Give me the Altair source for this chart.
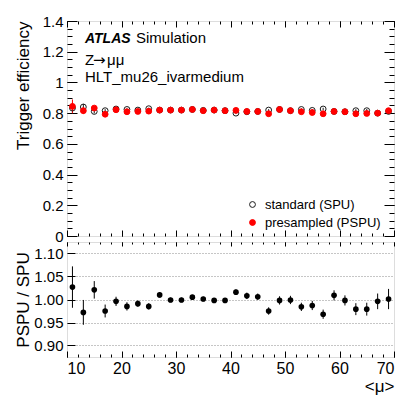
import altair as alt
import pandas as pd

FONT = "Liberation Sans"

# ---------------- data ----------------
mu = list(range(11, 70, 2))
eff_spu = [0.833, 0.840, 0.811, 0.816, 0.827, 0.824, 0.820, 0.829, 0.820, 0.820,
           0.820, 0.824, 0.818, 0.820, 0.816, 0.800, 0.809, 0.811, 0.820, 0.824,
           0.816, 0.824, 0.818, 0.827, 0.811, 0.809, 0.816, 0.816, 0.800, 0.811]
err_spu = [0.035, 0.020, 0.013, 0.010, 0.008, 0.007, 0.006, 0.006, 0.005, 0.005,
           0.005, 0.005, 0.005, 0.005, 0.005, 0.005, 0.006, 0.006, 0.006, 0.007,
           0.007, 0.007, 0.008, 0.008, 0.008, 0.009, 0.010, 0.011, 0.012, 0.015]
eff_pspu = [0.844, 0.816, 0.833, 0.793, 0.822, 0.809, 0.811, 0.813, 0.820, 0.820,
            0.820, 0.824, 0.816, 0.820, 0.816, 0.818, 0.811, 0.811, 0.796, 0.824,
            0.816, 0.809, 0.804, 0.796, 0.811, 0.809, 0.796, 0.798, 0.800, 0.816]
err_pspu = [0.045, 0.022, 0.014, 0.011, 0.008, 0.007, 0.006, 0.006, 0.005, 0.005,
            0.005, 0.005, 0.005, 0.005, 0.005, 0.005, 0.006, 0.006, 0.006, 0.007,
            0.007, 0.007, 0.008, 0.008, 0.008, 0.009, 0.010, 0.011, 0.012, 0.015]
ratio = [1.027, 0.972, 1.021, 0.975, 0.996, 0.985, 0.991, 0.985, 1.010, 0.999,
         0.999, 1.005, 1.001, 0.998, 0.998, 1.016, 1.008, 1.006, 0.975, 0.998,
         0.999, 0.984, 0.987, 0.968, 1.009, 0.998, 0.979, 0.979, 0.996, 1.001]
ratio_err = [0.045, 0.027, 0.019, 0.014, 0.010, 0.009, 0.007, 0.007, 0.006, 0.005,
             0.005, 0.005, 0.005, 0.005, 0.005, 0.006, 0.007, 0.007, 0.008, 0.009,
             0.009, 0.009, 0.010, 0.010, 0.011, 0.011, 0.013, 0.014, 0.017, 0.022]

SERIES = ["standard (SPU)", "presampled (PSPU)"]
y_major_top = [0, 0.2, 0.4, 0.6, 0.8, 1.0, 1.2, 1.4]
y_minor_top = [round(i * 0.05, 2) for i in range(29)]
y_major_ratio = [0.90, 0.95, 1.00, 1.05, 1.10]
x_major = [10, 20, 30, 40, 50, 60, 70]
x_minor = list(range(10, 71, 2))

label_atlas = ["ATLAS"]
label_sim = ["Simulation"]
label_proc_z = ["Z"]
label_proc_arrow = ["\u2192"]
label_proc_mumu = ["\u03bc\u03bc"]
label_trig = ["HLT_mu26_ivarmedium"]
title_y_top = "Trigger efficiency"
title_y_ratio = "PSPU / SPU"
title_x = "<\u03bc>"

# ---------------- tables ----------------
rows = []
for s, eff, err in [(SERIES[0], eff_spu, err_spu), (SERIES[1], eff_pspu, err_pspu)]:
    for m, e, d in zip(mu, eff, err):
        rows.append({"series": s, "mu": m, "eff": e, "lo": e - d, "hi": e + d})
top_df = pd.DataFrame(rows)
ratio_df = pd.DataFrame({"mu": mu, "r": ratio,
                         "lo": [r - e for r, e in zip(ratio, ratio_err)],
                         "hi": [r + e for r, e in zip(ratio, ratio_err)]})

W, H1, H2 = 327, 215, 115

xs = alt.Scale(domain=[10, 70], nice=False, zero=False)
ys_top = alt.Scale(domain=[0, 1.4], nice=False, zero=False)
ys_rat = alt.Scale(domain=[0.875, 1.125], nice=False, zero=False)


def tick_axis(orient, offset, values, size):
    return alt.Axis(orient=orient, offset=offset, values=values, tickSize=size,
                    labels=False, domain=False, grid=False, title=None,
                    ticks=True, tickColor="black", tickWidth=1)


y_lab_top = alt.Axis(orient="left", values=y_major_top, format="~g", ticks=False, tickSize=0,
                     domain=False, grid=False, labelFontSize=15, labelPadding=4,
                     title=title_y_top, titleFontSize=17, titleFontWeight="normal",
                     titleAnchor="end", titlePadding=1, minExtent=34, maxExtent=34)

# ---------------- top panel ----------------
base_top = alt.Chart(top_df)

spu_bars = base_top.transform_filter(alt.datum.series == SERIES[0]).mark_rule(
    color="#1a1a1a", strokeWidth=1).encode(
    x=alt.X("mu:Q", scale=xs, axis=tick_axis("top", -H1, x_major, 6)),
    y=alt.Y("lo:Q", scale=ys_top, axis=y_lab_top),
    y2="hi:Q")

pspu_bars = base_top.transform_filter(alt.datum.series == SERIES[1]).mark_rule(
    color="red", strokeWidth=1).encode(
    x=alt.X("mu:Q", scale=xs, axis=tick_axis("top", -H1, x_minor, 3)),
    y=alt.Y("lo:Q", scale=ys_top, axis=tick_axis("right", -W, y_minor_top, 5)),
    y2="hi:Q")

leg = alt.Legend(orient="none", legendX=179, legendY=177, title=None, labelFontSize=13,
                 labelFont=FONT, labelColor="black", symbolSize=34, symbolStrokeWidth=1,
                 labelOffset=6, rowPadding=4, padding=0, symbolType="circle")

points = base_top.mark_point(shape="circle", size=34, strokeWidth=1, opacity=1).encode(
    x=alt.X("mu:Q", scale=xs, axis=tick_axis("bottom", -H1, x_major, 6)),
    y=alt.Y("eff:Q", scale=ys_top, axis=tick_axis("right", -W, y_major_top, 10)),
    fill=alt.Fill("series:N", scale=alt.Scale(domain=SERIES, range=["transparent", "red"]),
                  legend=leg),
    stroke=alt.Stroke("series:N", scale=alt.Scale(domain=SERIES, range=["#1a1a1a", "red"]),
                      legend=leg),
    order=alt.Order("series:N", sort="descending"),
)

dummy4 = base_top.mark_point(opacity=0).encode(
    x=alt.X("mu:Q", scale=xs, axis=tick_axis("bottom", -H1, x_minor, 3)),
    y=alt.Y("eff:Q", scale=ys_top, axis=tick_axis("left", -W, y_major_top, 10)))

dummy5 = base_top.mark_point(opacity=0).encode(
    x=alt.X("mu:Q", scale=xs, axis=None),
    y=alt.Y("eff:Q", scale=ys_top, axis=tick_axis("left", -W, y_minor_top, 5)))


def text_layer(values, x, y, size, weight="normal", style="normal", font=FONT):
    return alt.Chart(pd.DataFrame({"t": values})).mark_text(
        align="left", baseline="alphabetic", font=font, fontSize=size,
        fontWeight=weight, fontStyle=style, color="black").encode(
        x=alt.value(x), y=alt.value(y), text="t:N")


texts = (text_layer(label_atlas, 18, 22, 14, "bold", "italic")
         + text_layer(label_sim, 69, 22, 15)
         + text_layer(label_proc_z, 18, 43.5, 15)
         + text_layer(label_proc_arrow, 26, 43.5, 15, font="DejaVu Sans")
         + text_layer(label_proc_mumu, 40, 43.5, 15)
         + text_layer(label_trig, 18, 61, 15))

top = alt.layer(spu_bars, pspu_bars, points, dummy4, dummy5, texts).resolve_axis(
    x="independent", y="independent").properties(width=W, height=H1)

# ---------------- ratio panel ----------------
base_r = alt.Chart(ratio_df)

y_lab_r = alt.Axis(orient="left", values=y_major_ratio, format=".2f", ticks=False, tickSize=0,
                   domain=False, grid=True, gridColor="#8c8c8c", gridDash=[1, 2], gridWidth=1,
                   labelFontSize=15, labelPadding=4, title=title_y_ratio, titleFontSize=17,
                   titleFontWeight="normal", titleAnchor="middle", titlePadding=1,
                   minExtent=34, maxExtent=34)
x_lab_r = alt.Axis(orient="bottom", values=x_major, format="d", ticks=False, tickSize=0,
                   domain=False, grid=False, labelFontSize=16, labelPadding=3,
                   title=title_x, titleFontSize=17, titleAnchor="end", titlePadding=2,
                   titleFontWeight="normal")

r_bars = base_r.mark_rule(color="black", strokeWidth=1).encode(
    x=alt.X("mu:Q", scale=xs, axis=x_lab_r),
    y=alt.Y("lo:Q", scale=ys_rat, axis=y_lab_r),
    y2="hi:Q")
r_pts = base_r.mark_circle(size=32, color="black", opacity=1).encode(
    x=alt.X("mu:Q", scale=xs, axis=tick_axis("top", -H2, x_major, 6)),
    y=alt.Y("r:Q", scale=ys_rat, axis=tick_axis("right", -W, y_major_ratio, 8)))
r_d3 = base_r.mark_point(opacity=0).encode(
    x=alt.X("mu:Q", scale=xs, axis=tick_axis("top", -H2, x_minor, 3)),
    y=alt.Y("r:Q", scale=ys_rat, axis=None))
r_d4 = base_r.mark_point(opacity=0).encode(
    x=alt.X("mu:Q", scale=xs, axis=tick_axis("bottom", -H2, x_major, 4)),
    y=alt.Y("r:Q", scale=ys_rat, axis=None))
r_d5 = base_r.mark_point(opacity=0).encode(
    x=alt.X("mu:Q", scale=xs, axis=tick_axis("bottom", -H2, x_minor, 2)),
    y=alt.Y("r:Q", scale=ys_rat, axis=None))

bottom = alt.layer(r_bars, r_pts, r_d3, r_d4, r_d5).resolve_axis(
    x="independent", y="independent").properties(width=W, height=H2)

chart = alt.vconcat(top, bottom, spacing=6, bounds="flush").properties(
    padding={"left": 5, "top": 5, "right": 5, "bottom": 5}
).configure_view(stroke="black", strokeWidth=1).configure_axis(
    labelFont=FONT, titleFont=FONT, labelColor="black", titleColor="black",
    titleFontWeight="normal").configure(background="white")

chart.save("out.html", embed_options={"renderer": "svg", "actions": False})
